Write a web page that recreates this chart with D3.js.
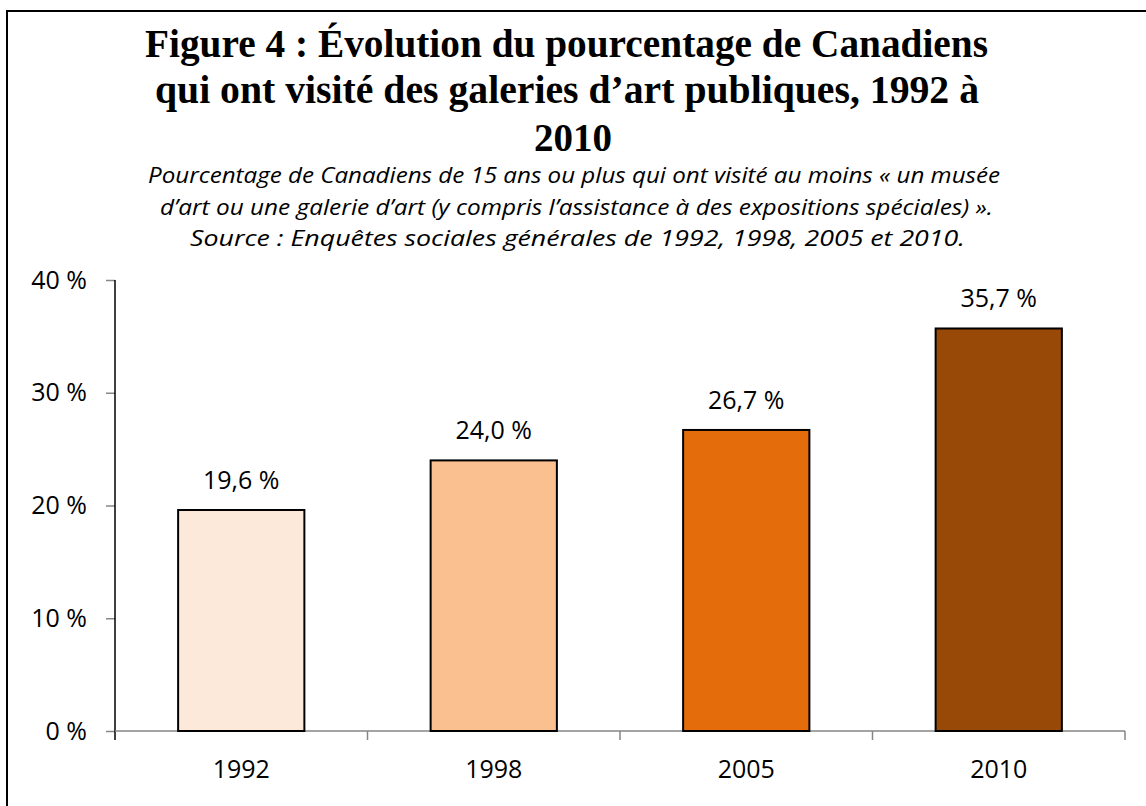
<!DOCTYPE html>
<html>
<head>
<meta charset="utf-8">
<script src="https://cdn.jsdelivr.net/npm/d3@7"></script>
<style>
  body { margin: 0; background: #fff; }
  svg { display: block; }
</style>
</head>
<body>
<div id="chart"></div>
<script>
const years = ["1992", "1998", "2005", "2010"];
const values = [19.6, 24.0, 26.7, 35.7];
const barColors = ["#FDE9D9", "#FAC090", "#E46C0A", "#984807"];
const yTicks = [0, 10, 20, 30, 40];
const titleLines = [
  "Figure 4 : Évolution du pourcentage de Canadiens",
  "qui ont visité des galeries d’art publiques, 1992 à",
  "2010"
];
const subtitleLines = [
  "Pourcentage de Canadiens de 15 ans ou plus qui ont visité au moins « un musée",
  "d’art ou une galerie d’art (y compris l’assistance à des expositions spéciales) ».",
  "Source : Enquêtes sociales générales de 1992, 1998, 2005 et 2010."
];

const w = 1146;
const h = 806;
const plotLeft = 115, plotRight = 1125, plotTop = 280, plotBottom = 731;
const labelFont = '"Open Sans", sans-serif';

const svg = d3.select('#chart')
  .append('svg')
  .attr('width', w)
  .attr('height', h);

// frame (only left/top edges show in the picture)
svg.append('rect')
  .attr('x', 7).attr('y', 11)
  .attr('width', 1200).attr('height', 900)
  .attr('fill', 'none')
  .attr('stroke', '#000')
  .attr('stroke-width', 2);

// title
const titleWidths = [843, 824, null];
const titleX = [566.5, 567, 573];
const titleY = [57, 103, 151];
titleLines.forEach((t, i) => {
  const el = svg.append('text')
    .attr('x', titleX[i])
    .attr('y', titleY[i])
    .attr('text-anchor', 'middle')
    .style('font-family', '"Liberation Serif", serif')
    .style('font-weight', 'bold')
    .style('font-size', '39px')
    .text(t);
  if (titleWidths[i]) el.attr('textLength', titleWidths[i]).attr('lengthAdjust', 'spacingAndGlyphs');
});

// subtitle
const subWidths = [852, 833, 775];
const subX = [574, 576.5, 577.5];
const subY = [183, 215, 246];
subtitleLines.forEach((t, i) => {
  svg.append('text')
    .attr('x', subX[i])
    .attr('y', subY[i])
    .attr('text-anchor', 'middle')
    .style('font-family', labelFont)
    .style('font-style', 'italic')
    .style('font-size', '22px')
    .attr('textLength', subWidths[i])
    .attr('lengthAdjust', 'spacingAndGlyphs')
    .text(t);
});

const x = d3.scaleBand().domain(years).range([plotLeft, plotRight]).paddingInner(0.5).paddingOuter(0.25);
const y = d3.scaleLinear().domain([0, 40]).range([plotBottom, plotTop]);

// y axis
const yAxis = svg.append('g')
  .attr('transform', `translate(${plotLeft},0)`)
  .call(d3.axisLeft(y).tickValues(yTicks).tickSize(9).tickPadding(19)
    .tickFormat(d => d + ' %'));
yAxis.select('.domain').remove();
yAxis.selectAll('.tick line').attr('stroke', '#868686').attr('stroke-width', 1.5);
yAxis.selectAll('.tick text')
  .style('font-family', labelFont)
  .style('font-size', '25px')
  .attr('fill', '#000');
svg.append('line')
  .attr('x1', plotLeft).attr('x2', plotLeft)
  .attr('y1', plotTop).attr('y2', plotBottom + 9)
  .attr('stroke', '#000').attr('stroke-width', 1.5);

// x axis: baseline, boundary ticks, year labels
const xb = d3.scaleLinear().domain([0, years.length]).range([plotLeft, plotRight]);
svg.append('line')
  .attr('x1', plotLeft).attr('x2', plotRight)
  .attr('y1', plotBottom).attr('y2', plotBottom)
  .attr('stroke', '#868686').attr('stroke-width', 1.5);
svg.selectAll('.xtick')
  .data(d3.range(1, years.length + 1))
  .enter().append('line')
  .attr('x1', d => xb(d)).attr('x2', d => xb(d))
  .attr('y1', plotBottom).attr('y2', plotBottom + 9)
  .attr('stroke', '#868686').attr('stroke-width', 1.5);
svg.selectAll('.xlabel')
  .data(years)
  .enter().append('text')
  .attr('x', d => x(d) + x.bandwidth() / 2)
  .attr('y', 778)
  .attr('text-anchor', 'middle')
  .style('font-family', labelFont)
  .style('font-size', '25px')
  .text(d => d);

// bars
svg.selectAll('.bar')
  .data(values)
  .enter().append('rect')
  .attr('x', (d, i) => x(years[i]))
  .attr('y', d => y(d))
  .attr('width', x.bandwidth())
  .attr('height', d => y(0) - y(d))
  .attr('fill', (d, i) => barColors[i])
  .attr('stroke', '#000')
  .attr('stroke-width', 2);

// value labels
svg.selectAll('.val')
  .data(values)
  .enter().append('text')
  .attr('x', (d, i) => x(years[i]) + x.bandwidth() / 2)
  .attr('y', d => y(d) - 21)
  .attr('text-anchor', 'middle')
  .style('font-family', labelFont)
  .style('font-size', '25px')
  .text(d => d3.format('.1f')(d).replace('.', ',') + ' %');
</script>
</body>
</html>
